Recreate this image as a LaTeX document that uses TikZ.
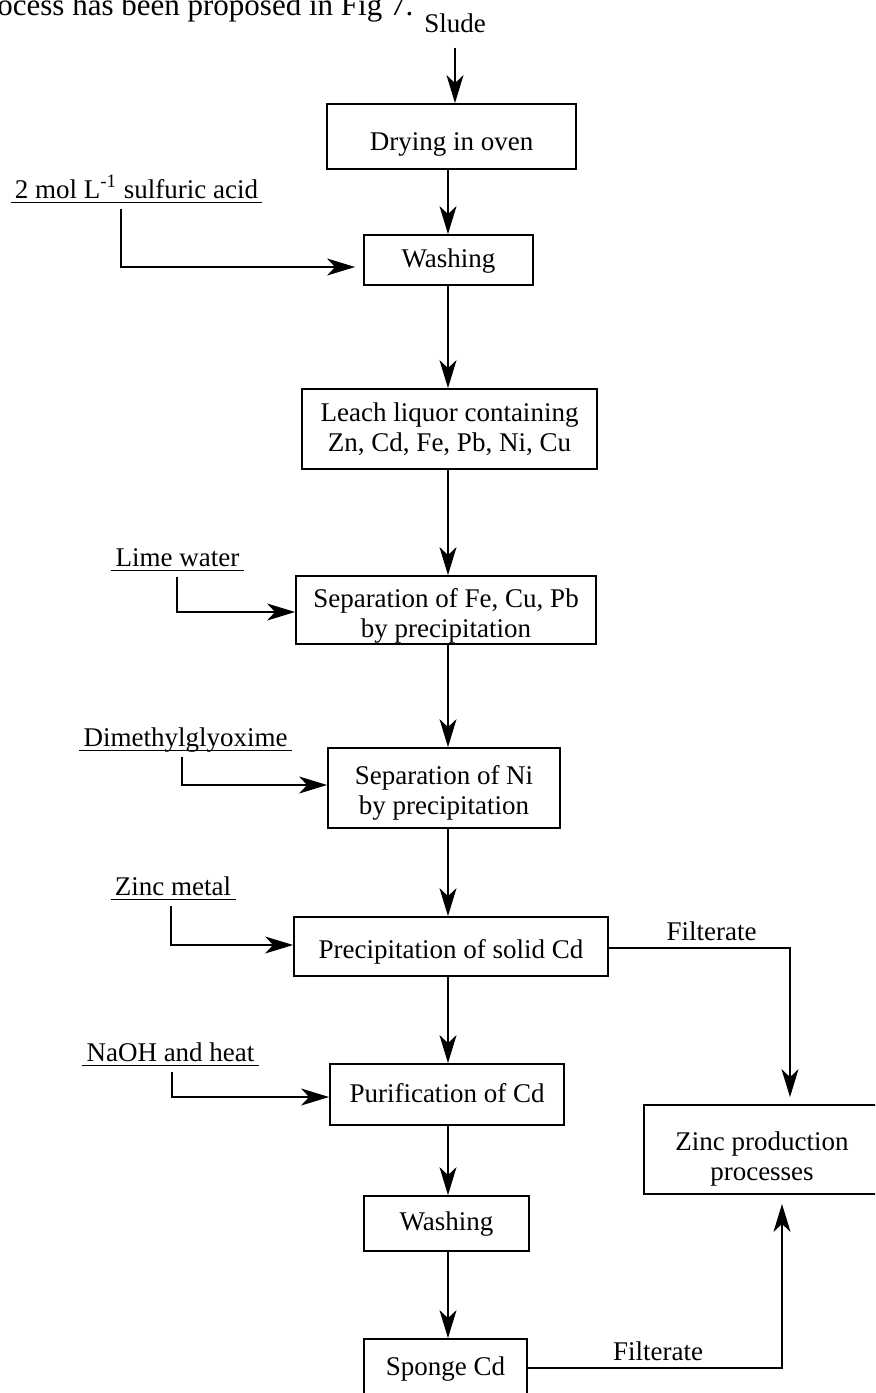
\documentclass[tikz,border=0pt]{standalone}
\usepackage{fontspec}
\setmainfont{Liberation Serif}
\usetikzlibrary{arrows.meta}
\begin{document}
\begin{tikzpicture}[x=0.5pt,y=-0.5pt,
  font=\fontsize{13.5}{15}\selectfont,
  box/.style={draw, line width=0.9pt, inner sep=0pt, align=center},
  lbl/.style={inner xsep=2pt, inner ysep=0pt, text depth=2pt, anchor=base},
  arr/.style={line width=0.8pt, -{Stealth[length=14pt,width=8.5pt,inset=4pt]}},
  uline/.style={line width=0.6pt}
]
\useasboundingbox (0,0) rectangle (875,1393);
\clip (0,0) rectangle (875,1393);

% cropped caption text
\node[anchor=base west, inner sep=0pt, font=\fontsize{15.5}{17}\selectfont] (intro) at (-3,15) {ocess has been proposed in Fig 7.};

% main chain
\node[anchor=base, inner sep=0pt] (slude) at (455,32) {Slude};
\node[box, minimum width=124.5pt, minimum height=32.5pt, text height=16.5pt, text depth=3pt] (drying) at (451.5,136.5) {Drying in oven};
\node[box, minimum width=84.5pt, minimum height=25pt, text height=10pt, text depth=3pt] (wash1) at (448.5,260) {Washing};
\node[box, minimum width=147.5pt, minimum height=40pt] (leach) at (449.5,429) {Leach liquor containing\\Zn, Cd, Fe, Pb, Ni, Cu};
\node[box, minimum width=150pt, minimum height=34pt] (sepfe) at (446,610) {\rule{0pt}{15.2pt}Separation of Fe, Cu, Pb\\by precipitation};
\node[box, minimum width=116pt, minimum height=40pt] (sepni) at (444,788) {\rule{0pt}{14.2pt}Separation of Ni\\by precipitation};
\node[box, minimum width=157pt, minimum height=29.5pt, text height=14.5pt, text depth=3pt] (precip) at (451,946.5) {Precipitation of solid Cd};
\node[box, minimum width=117pt, minimum height=30.5pt, text height=10.5pt, text depth=3pt] (purif) at (447,1094.5) {Purification of Cd};
\node[box, minimum width=82.5pt, minimum height=27.5pt, text height=9.5pt, text depth=3pt] (wash2) at (446.5,1223.5) {Washing};
\node[box, minimum width=81.5pt, minimum height=33pt, text height=6pt, text depth=3pt] (sponge) at (445.5,1372) {Sponge Cd};
\node[box, minimum width=118pt, minimum height=44.5pt] (zinc) at (762,1149.5) {\rule{0pt}{19.2pt}Zinc production\\processes};

% side inputs
\node[lbl] (sulf) at (136.5,198) {2 mol L\textsuperscript{-1} sulfuric acid};
\node[lbl] (lime) at (177.5,566) {Lime water};
\node[lbl] (dmg) at (185.5,746) {Dimethylglyoxime};
\node[lbl] (zincm) at (173,895) {Zinc metal};
\node[lbl] (naoh) at (170.5,1061) {NaOH and heat};
\foreach \n in {sulf,lime,dmg,zincm,naoh} \draw[uline] (\n.south west) -- (\n.south east);

% filtrate labels
\node[anchor=base, inner sep=0pt] (filt1) at (711.5,940) {Filterate};
\node[anchor=base, inner sep=0pt] (filt2) at (658,1360) {Filterate};

% coordinates for routing
\coordinate (mx) at (448,0);
\coordinate (k1) at (121,267);
\coordinate (k2) at (177,612);
\coordinate (k3) at (182,785);
\coordinate (k4) at (171,945);
\coordinate (k5) at (172,1097);
\coordinate (f1) at (790,948);
\coordinate (f2) at (782,1368);

% main arrows
\draw[arr, shorten <=7.5pt] (slude.south) -- (slude.south |- drying.north);
\draw[arr] (drying.south -| mx) -- (wash1.north -| mx);
\draw[arr] (wash1.south -| mx) -- (leach.north -| mx);
\draw[arr] (leach.south -| mx) -- (sepfe.north -| mx);
\draw[arr] (sepfe.south -| mx) -- (sepni.north -| mx);
\draw[arr] (sepni.south -| mx) -- (precip.north -| mx);
\draw[arr] (precip.south -| mx) -- (purif.north -| mx);
\draw[arr] (purif.south -| mx) -- (wash2.north -| mx);
\draw[arr] (wash2.south -| mx) -- (sponge.north -| mx);

% side input arrows
\draw[arr, shorten <=3.5pt, shorten >=4pt] (sulf.south -| k1) |- (wash1.west |- k1);
\draw[arr, shorten <=3.5pt] (lime.south -| k2) |- (sepfe.west |- k2);
\draw[arr, shorten <=3.5pt] (dmg.south -| k3) |- (sepni.west |- k3);
\draw[arr, shorten <=3.5pt] (zincm.south -| k4) |- (precip.west |- k4);
\draw[arr, shorten <=3.5pt] (naoh.south -| k5) |- (purif.west |- k5);

% filtrate arrows
\draw[arr, shorten >=3.5pt] (precip.east |- f1) -| (zinc.north -| f1);
\draw[arr, shorten >=4.5pt] (sponge.east |- f2) -| (zinc.south -| f2);
\end{tikzpicture}
\end{document}
